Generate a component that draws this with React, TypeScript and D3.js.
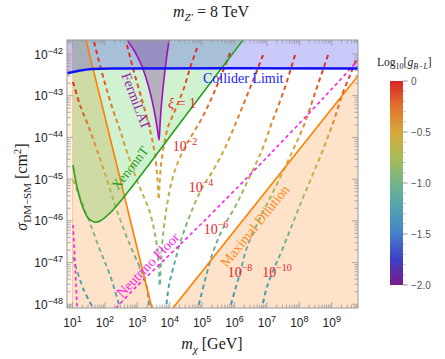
import React from "react";
import * as d3 from "d3";

const WIDTH = 445;
const HEIGHT = 359;
const PLOT = { left: 67, right: 358, top: 40, bottom: 308 };

// axis domains, log10 exponents
const xLogDomain = [0.83, 9.81];
const yLogDomain = [-48.09, -41.664];
const xTickExps = [1, 2, 3, 4, 5, 6, 7, 8, 9];
const yTickExps = [-48, -47, -46, -45, -44, -43, -42];

// colour bar (log10 g_{B-L})
const cbTickValues = [0, -0.5, -1.0, -1.5, -2.0];
const cbTickLabels = ["0", "\u22120.5", "\u22121.0", "\u22121.5", "\u22122.0"];
const gStops = [-2, -1.75, -1.5, -1.25, -1, -0.75, -0.5, -0.25, 0];
const gColors = ["#781c86", "#3e3ec4", "#4580c8", "#50a2b0", "#74b58a", "#a9bb56", "#d6a83b", "#e3722d", "#d92525"];

// [log10 m, log10 sigma]
const colliderCurve = [[0.83, -42.46], [1.2, -42.4], [1.6, -42.36], [2.5, -42.345], [9.81, -42.345]];
const xenonCurve = [
  [1.015, -44.662], [1.139, -45.19], [1.324, -45.693], [1.478, -45.933], [1.664, -46.029],
  [1.849, -46.005], [2.157, -45.813], [2.682, -45.333], [4.472, -43.499], [6.262, -41.664],
];
const fermiLeft = [
  [2.682, -41.664], [2.929, -41.952], [3.114, -42.24], [3.269, -42.576], [3.392, -42.911],
  [3.485, -43.223], [3.562, -43.535], [3.623, -43.823], [3.67, -44.062],
];
const fermiRight = [
  [3.67, -44.062], [3.7, -43.703], [3.731, -43.343], [3.793, -42.815], [3.886, -42.192], [3.978, -41.664],
];
const dilutionLeft = [[1.417, -41.664], [3.45, -48.091]];
const dilutionRight = [[4.1, -48.091], [9.81, -42.52]];
const nuFloorLow = [[1.015, -46.1], [1.08, -47.06], [1.14, -48.091]];
const nuFloorHigh = [
  [2.343, -48.091], [2.867, -47.659], [3.762, -46.988], [4.935, -46.101], [7.158, -44.35], [9.256, -42.624], [9.81, -42.144],
];

// relic-abundance curves (left branches below resonance, right branches above)
const xi1Left = [[2.682, -41.784], [2.898, -42.432], [3.145, -43.103], [3.392, -43.823], [3.546, -44.422], [3.623, -45.022], [3.654, -45.501]];
const xi2Left = [[1.664, -41.712], [1.972, -42.624], [2.25, -43.343], [2.466, -43.823], [2.713, -44.422], [3.022, -45.094], [3.392, -45.813], [3.577, -46.46], [3.654, -46.988], [3.685, -47.54]];
const xi4Left = [[1.015, -42.671], [1.231, -43.223], [1.478, -43.703], [1.756, -44.302], [2.065, -45.022], [2.312, -45.621], [2.59, -46.221], [2.867, -46.748], [3.114, -47.18], [3.3, -47.612], [3.361, -48.091]];
const xi6Left = [[1.015, -45.022], [1.386, -45.741], [1.849, -46.7], [2.157, -47.3], [2.466, -48.091]];
const xi8Left = [[1.015, -46.868], [1.324, -47.612], [1.633, -48.091]];
const xi1Right = [[4.843, -41.856], [4.627, -42.336], [4.441, -42.815], [4.256, -43.175], [4.102, -43.463], [3.948, -43.751], [3.824, -44.182], [3.731, -44.662], [3.685, -45.141], [3.67, -45.453]];
const xi2Right = [[5.861, -41.976], [5.429, -42.815], [4.997, -43.535], [4.688, -43.942], [4.472, -44.23], [4.256, -44.59], [4.071, -45.022], [3.917, -45.621], [3.793, -46.341], [3.731, -46.988], [3.7, -47.54]];
const xi4Right = [[6.88, -42.024], [6.478, -42.815], [6.077, -43.583], [5.676, -44.302], [5.306, -44.83], [4.997, -45.213], [4.627, -45.861], [4.349, -46.46], [4.133, -47.06], [3.978, -47.54], [3.886, -48.091]];
const xi6Right = [[7.867, -42.024], [7.528, -42.863], [7.158, -43.631], [6.849, -44.302], [6.417, -45.022], [6.046, -45.621], [5.614, -46.221], [5.306, -46.82], [5.09, -47.42], [4.873, -48.091]];
const xi8Right = [[8.886, -42.024], [8.515, -42.863], [8.145, -43.703], [7.775, -44.35], [7.25, -45.213], [6.725, -46.029], [6.355, -46.7], [6.17, -47.252], [6.015, -47.659], [5.861, -48.091]];
const xi10Right = [[9.75, -42.144], [9.565, -42.504], [9.318, -42.983], [9.071, -43.583], [8.701, -44.35], [8.02, -45.621], [7.466, -46.7], [7.158, -47.252], [6.972, -47.659], [6.849, -48.091]];

// log10 g at the two ends of each relic curve
const relicCurves = [
  { pts: xi1Left, g: [0, -0.55] },
  { pts: xi2Left, g: [0, -1.05] },
  { pts: xi4Left, g: [0, -1.35] },
  { pts: xi6Left, g: [-0.55, -1.3] },
  { pts: xi8Left, g: [-1.05, -1.4] },
  { pts: xi1Right, g: [0, -0.55] },
  { pts: xi2Right, g: [0, -1.05] },
  { pts: xi4Right, g: [0, -1.35] },
  { pts: xi6Right, g: [0, -1.4] },
  { pts: xi8Right, g: [0, -1.4] },
  { pts: xi10Right, g: [0, -1.4] },
];

const xiLabels = [
  { exp: null, x: 182, y: 107.5 },
  { exp: "\u22122", x: 185, y: 151 },
  { exp: "\u22124", x: 201, y: 192 },
  { exp: "\u22126", x: 216, y: 234 },
  { exp: "\u22128", x: 240, y: 277 },
  { exp: "\u221210", x: 277, y: 277 },
];

const SERIF = "'Liberation Serif', 'DejaVu Serif', serif";
const SANS = "'Liberation Sans', Arial, sans-serif";

export default function App() {
  const x = d3.scaleLog().domain([Math.pow(10, xLogDomain[0]), Math.pow(10, xLogDomain[1])]).range([PLOT.left, PLOT.right]);
  const y = d3.scaleLog().domain([Math.pow(10, yLogDomain[0]), Math.pow(10, yLogDomain[1])]).range([PLOT.bottom, PLOT.top]);
  const px = (lm: number) => x(Math.pow(10, lm));
  const py = (ls: number) => y(Math.pow(10, ls));
  const smooth = d3.line<number[]>().x((d) => px(d[0])).y((d) => py(d[1])).curve(d3.curveCatmullRom.alpha(0.5));
  const straight = d3.line<number[]>().x((d) => px(d[0])).y((d) => py(d[1]));
  const color = d3.scaleLinear<string>().domain(gStops).range(gColors).interpolate(d3.interpolateRgb);

  const T = PLOT.top, B = PLOT.bottom, L = PLOT.left, R = PLOT.right;
  const x10 = px(1);

  // fills
  const peachLeft = `M${x10},${T}L${px(dilutionLeft[0][0])},${T}L${px(dilutionLeft[1][0])},${B}L${x10},${B}Z`;
  const peachRight = `M${px(dilutionRight[0][0])},${B}L${px(dilutionRight[1][0])},${py(dilutionRight[1][1])}L${R},${py(dilutionRight[1][1])}L${R},${B}Z`;
  const peachStrip = `M${L},${T}L${x10},${T}L${x10},${B}L${L},${B}Z`;
  const greenFill = smooth(xenonCurve) + `L${px(xenonCurve[xenonCurve.length - 1][0])},${T}L${px(xenonCurve[0][0])},${T}Z`;
  const colliderFill = smooth(colliderCurve) + `L${R},${T}L${L},${T}Z`;
  const fermiPts = fermiLeft.concat(fermiRight.slice(1));
  const fermiFill = smooth(fermiPts) + "Z";

  // ticks
  const xTicks: { v: number; major: boolean }[] = [];
  for (let e = 0; e <= 9; e++) for (let k = 1; k <= 9; k++) {
    const v = k * Math.pow(10, e);
    const p = x(v);
    if (p >= L && p <= R) xTicks.push({ v, major: k === 1 });
  }
  const yTicks: { v: number; major: boolean }[] = [];
  for (let e = -49; e <= -42; e++) for (let k = 1; k <= 9; k++) {
    const v = k * Math.pow(10, e);
    const p = y(v);
    if (p >= T - 0.01 && p <= B) yTicks.push({ v, major: k === 1 });
  }

  const cbY = d3.scaleLinear().domain([-2, 0]).range([285, 81]);
  const cbMinor = d3.range(-2, 0.001, 0.1);

  const gradStops = d3.range(0, 1.0001, 0.1);

  return (
    <svg width={WIDTH} height={HEIGHT} style={{ position: "absolute", left: 0, top: 0, background: "#fff" }}>
      <defs>
        <clipPath id="plotClip">
          <rect x={L} y={T} width={R - L} height={B - T} />
        </clipPath>
        <linearGradient id="cbGrad" x1="0" y1="1" x2="0" y2="0">
          {gStops.map((g, i) => (
            <stop key={i} offset={(g + 2) / 2} stopColor={gColors[i]} />
          ))}
        </linearGradient>
        {relicCurves.map((c, i) => {
          const a = c.pts[0], b = c.pts[c.pts.length - 1];
          return (
            <linearGradient key={i} id={`relic${i}`} gradientUnits="userSpaceOnUse" x1={px(a[0])} y1={py(a[1])} x2={px(b[0])} y2={py(b[1])}>
              {gradStops.map((t, j) => (
                <stop key={j} offset={t} stopColor={color(c.g[0] + (c.g[1] - c.g[0]) * t)} />
              ))}
            </linearGradient>
          );
        })}
      </defs>

      <g clipPath="url(#plotClip)">
        <path d={peachStrip} fill="rgba(250,150,60,0.13)" />
        <path d={peachLeft} fill="rgba(250,150,60,0.27)" />
        <path d={peachRight} fill="rgba(250,150,60,0.27)" />
        <line x1={x10} x2={x10} y1={T} y2={B} stroke="rgba(250,160,80,0.45)" strokeWidth={1} />
        <path d={greenFill} fill="rgba(20,190,20,0.2)" />
        <path d={colliderFill} fill="rgba(60,60,235,0.27)" />
        <path d={fermiFill} fill="rgba(120,30,150,0.3)" />

        {relicCurves.map((c, i) => (
          <path key={i} d={smooth(c.pts) || ""} fill="none" stroke={`url(#relic${i})`} strokeWidth={2} strokeDasharray="4.5,3.5" />
        ))}

        <path d={smooth(nuFloorLow) || ""} fill="none" stroke="#ff1ee8" strokeWidth={1.6} strokeDasharray="3.5,3" />
        <path d={smooth(nuFloorHigh) || ""} fill="none" stroke="#ff1ee8" strokeWidth={1.6} strokeDasharray="3.5,3" />

        <path d={straight(dilutionLeft) || ""} fill="none" stroke="#ff8000" strokeWidth={1.6} />
        <path d={straight(dilutionRight) || ""} fill="none" stroke="#ff8000" strokeWidth={1.6} />
        <path d={smooth(xenonCurve) || ""} fill="none" stroke="#28a020" strokeWidth={1.6} />
        <path d={smooth(fermiPts) || ""} fill="none" stroke="#a010b8" strokeWidth={1.6} />
        <path d={smooth(colliderCurve) || ""} fill="none" stroke="#1010ff" strokeWidth={2.5} />
      </g>

      {/* frame and ticks */}
      <rect x={L} y={T} width={R - L} height={B - T} fill="none" stroke="#999" strokeWidth={1} />
      {xTicks.map((t, i) => {
        const p = x(t.v);
        const len = t.major ? 6 : 3.5;
        return (
          <g key={`xt${i}`} stroke="#999" strokeWidth={0.8}>
            <line x1={p} x2={p} y1={B} y2={B - len} />
            <line x1={p} x2={p} y1={T} y2={T + len} />
          </g>
        );
      })}
      {yTicks.map((t, i) => {
        const p = y(t.v);
        const len = t.major ? 6 : 3.5;
        return (
          <g key={`yt${i}`} stroke="#999" strokeWidth={0.8}>
            <line x1={L} x2={L + len} y1={p} y2={p} />
            <line x1={R} x2={R - len} y1={p} y2={p} />
          </g>
        );
      })}

      {xTickExps.map((e) => (
        <text key={`xl${e}`} x={px(e)} y={327} textAnchor="middle" fontFamily={SANS} fontSize={12} fill="#222">
          10<tspan dy={-5} fontSize={9}>{String(e)}</tspan>
        </text>
      ))}
      {yTickExps.map((e) => (
        <text key={`yl${e}`} x={63} y={py(e) + 4.5} textAnchor="end" fontFamily={SANS} fontSize={12} fill="#222">
          10<tspan dy={-5} fontSize={9}>{"\u2212" + String(-e)}</tspan>
        </text>
      ))}

      {/* region labels */}
      <text x={203} y={83} fontFamily={SERIF} fontSize={14} fill="#1a1aff">Collider Limit</text>
      <text transform="translate(136,101) rotate(69)" textAnchor="middle" dominantBaseline="central" fontFamily={SERIF} fontSize={14} fill="#9a1aa8">FermiLAT</text>
      <text transform="translate(130,168) rotate(-52)" textAnchor="middle" dominantBaseline="central" fontFamily={SERIF} fontSize={13.5} fill="#2a9a20">XenonnT</text>
      <text transform="translate(148,265) rotate(-46)" textAnchor="middle" dominantBaseline="central" fontFamily={SERIF} fontSize={14} fill="#ff1ee8">Neutrino Floor</text>
      <text transform="translate(255,226) rotate(-51)" textAnchor="middle" dominantBaseline="central" fontFamily={SERIF} fontSize={14} fill="#ff8a1a">Maximal Dilution</text>

      {xiLabels.map((l, i) =>
        l.exp === null ? (
          <text key={`xi${i}`} x={l.x} y={l.y} textAnchor="middle" fontFamily={SERIF} fontSize={14} fill="#e8262b">
            <tspan fontStyle="italic">{"\u03be"}</tspan> = 1
          </text>
        ) : (
          <text key={`xi${i}`} x={l.x} y={l.y} textAnchor="middle" fontFamily={SERIF} fontSize={14} fill="#e8262b">
            10<tspan dy={-6} fontSize={10}>{l.exp}</tspan>
          </text>
        )
      )}

      {/* title and axis labels */}
      <text x={211} y={17} textAnchor="middle" fontFamily={SERIF} fontSize={16} fill="#222">
        <tspan fontStyle="italic">m</tspan>
        <tspan dy={4} fontSize={11} fontStyle="italic">{"Z\u2032"}</tspan>
        <tspan dy={-4}>{" = 8 TeV"}</tspan>
      </text>
      <text x={212} y={349} textAnchor="middle" fontFamily={SERIF} fontSize={16} fill="#222">
        <tspan fontStyle="italic">m</tspan>
        <tspan dy={4} fontSize={11} fontStyle="italic">{"\u03c7"}</tspan>
        <tspan dy={-4}>{" [GeV]"}</tspan>
      </text>
      <text transform="translate(27,187) rotate(-90)" textAnchor="middle" fontFamily={SERIF} fontSize={16} fill="#222">
        <tspan fontStyle="italic">{"\u03c3"}</tspan>
        <tspan dy={4} fontSize={11}>{"DM\u2212SM"}</tspan>
        <tspan dy={-4}>{" [cm"}</tspan>
        <tspan dy={-6} fontSize={11}>2</tspan>
        <tspan dy={6}>]</tspan>
      </text>

      {/* colour bar */}
      <text x={377} y={66} fontFamily={SERIF} fontSize={11.5} fill="#222">
        Log<tspan dy={3} fontSize={8}>10</tspan>
        <tspan dy={-3}>[</tspan>
        <tspan fontStyle="italic">g</tspan>
        <tspan dy={3} fontSize={8} fontStyle="italic">{"B\u2212L"}</tspan>
        <tspan dy={-3}>]</tspan>
      </text>
      <rect x={390} y={cbY(0)} width={13} height={cbY(-2) - cbY(0)} fill="url(#cbGrad)" />
      {cbMinor.map((v, i) => (
        <line key={`cbm${i}`} x1={403} x2={406} y1={cbY(v)} y2={cbY(v)} stroke="#bbb" strokeWidth={0.7} />
      ))}
      {cbTickValues.map((v, i) => (
        <g key={`cbt${i}`}>
          <line x1={403} x2={408} y1={cbY(v)} y2={cbY(v)} stroke="#999" strokeWidth={0.8} />
          <text x={411} y={cbY(v) + 3.5} fontFamily={SANS} fontSize={10} fill="#555">{cbTickLabels[i]}</text>
        </g>
      ))}
    </svg>
  );
}
